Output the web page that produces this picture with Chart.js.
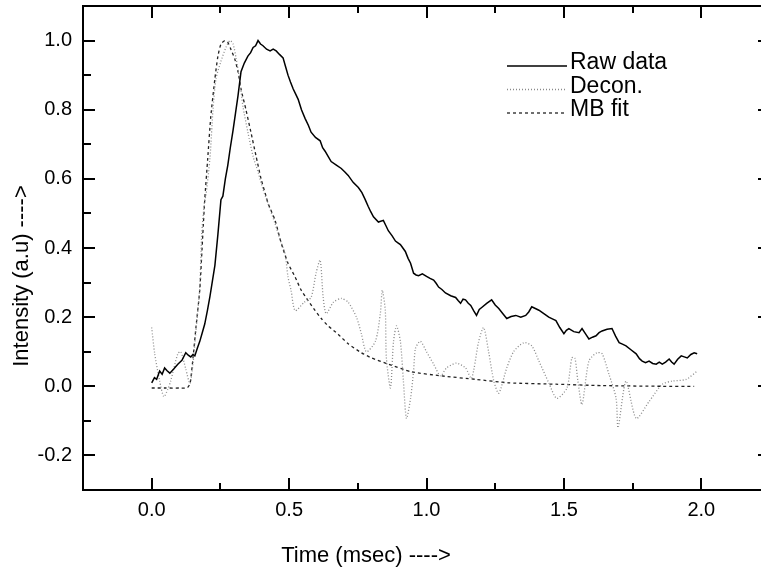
<!DOCTYPE html>
<html>
<head>
<meta charset="utf-8">
<script src="https://cdn.jsdelivr.net/npm/chart.js@4.4.1/dist/chart.umd.min.js"></script>
<style>
html,body{margin:0;padding:0;background:#fff;overflow:hidden;}
#wrap{width:775px;height:570px;position:relative;}
</style>
</head>
<body>
<div id="wrap"><canvas id="c"></canvas></div>
<script>
// ---- data ----
const xTicks = [0.0, 0.5, 1.0, 1.5, 2.0];
const xMinorTicks = [0.25, 0.75, 1.25, 1.75];
const yTicks = [-0.2, 0.0, 0.2, 0.4, 0.6, 0.8, 1.0];
const yMinorTicks = [-0.1, 0.1, 0.3, 0.5, 0.7, 0.9];
const seriesNames = ["Raw data", "Decon.", "MB fit"];
const xTitle = "Time (msec) ---->";
const yTitle = "Intensity (a.u) ---->";

const rawT = [0.000,0.010,0.018,0.029,0.038,0.047,0.056,0.066,0.080,0.095,0.110,0.124,0.133,0.142,0.150,0.157,0.166,0.175,0.184,0.193,0.203,0.212,0.221,0.230,0.241,0.252,0.259,0.268,0.277,0.286,0.296,0.305,0.314,0.325,0.337,0.350,0.360,0.369,0.378,0.387,0.396,0.405,0.418,0.431,0.442,0.453,0.465,0.478,0.487,0.496,0.505,0.515,0.524,0.533,0.545,0.558,0.570,0.580,0.596,0.613,0.622,0.631,0.642,0.653,0.672,0.690,0.703,0.715,0.733,0.752,0.765,0.777,0.788,0.797,0.807,0.825,0.843,0.852,0.861,0.875,0.887,0.896,0.905,0.914,0.923,0.933,0.942,0.953,0.962,0.971,0.985,1.000,1.013,1.026,1.035,1.044,1.056,1.069,1.088,1.106,1.115,1.124,1.133,1.142,1.152,1.161,1.172,1.182,1.192,1.201,1.219,1.237,1.250,1.263,1.278,1.292,1.308,1.325,1.343,1.361,1.372,1.383,1.396,1.409,1.427,1.445,1.458,1.471,1.485,1.500,1.509,1.518,1.536,1.555,1.566,1.580,1.591,1.604,1.617,1.628,1.639,1.657,1.675,1.688,1.701,1.713,1.726,1.745,1.763,1.775,1.785,1.797,1.810,1.823,1.836,1.847,1.858,1.870,1.883,1.892,1.901,1.914,1.927,1.938,1.949,1.962,1.974,1.985];
const rawV = [0.010,0.025,0.020,0.044,0.035,0.053,0.045,0.038,0.050,0.064,0.075,0.097,0.090,0.085,0.092,0.088,0.110,0.130,0.155,0.180,0.220,0.260,0.305,0.350,0.440,0.540,0.550,0.600,0.640,0.690,0.740,0.790,0.840,0.910,0.935,0.955,0.965,0.980,0.985,1.000,0.990,0.985,0.975,0.970,0.975,0.970,0.960,0.950,0.925,0.900,0.880,0.860,0.845,0.830,0.800,0.775,0.755,0.735,0.720,0.710,0.690,0.680,0.665,0.650,0.640,0.630,0.620,0.610,0.590,0.575,0.560,0.540,0.520,0.505,0.490,0.475,0.480,0.465,0.450,0.435,0.420,0.415,0.410,0.400,0.390,0.370,0.356,0.327,0.322,0.320,0.325,0.318,0.312,0.307,0.298,0.287,0.280,0.270,0.262,0.257,0.248,0.240,0.252,0.250,0.240,0.234,0.218,0.205,0.222,0.228,0.240,0.250,0.235,0.225,0.210,0.196,0.202,0.205,0.200,0.205,0.215,0.230,0.225,0.220,0.210,0.200,0.195,0.190,0.170,0.152,0.162,0.167,0.158,0.155,0.167,0.150,0.137,0.142,0.146,0.155,0.160,0.165,0.167,0.145,0.126,0.122,0.117,0.105,0.094,0.080,0.073,0.068,0.073,0.066,0.064,0.070,0.064,0.070,0.079,0.070,0.064,0.078,0.088,0.085,0.082,0.092,0.097,0.094];

const deconT = [0.000,0.011,0.029,0.044,0.058,0.069,0.095,0.106,0.124,0.139,0.150,0.161,0.175,0.182,0.193,0.197,0.212,0.223,0.234,0.252,0.270,0.285,0.296,0.307,0.321,0.332,0.350,0.369,0.387,0.405,0.423,0.449,0.471,0.485,0.496,0.507,0.522,0.555,0.580,0.598,0.613,0.624,0.635,0.661,0.690,0.715,0.745,0.763,0.781,0.814,0.832,0.839,0.850,0.854,0.869,0.880,0.891,0.905,0.916,0.927,0.942,0.953,0.960,0.978,1.000,1.026,1.051,1.073,1.109,1.142,1.164,1.190,1.208,1.226,1.245,1.263,1.292,1.317,1.354,1.383,1.409,1.445,1.474,1.511,1.529,1.540,1.551,1.566,1.591,1.620,1.639,1.664,1.690,1.697,1.726,1.763,1.810,1.858,1.894,1.945,1.985];
const deconV = [0.170,0.094,0.015,-0.030,-0.010,0.015,0.094,0.100,0.050,0.008,0.064,0.160,0.287,0.440,0.540,0.550,0.660,0.800,0.890,0.940,0.980,1.000,0.990,0.950,0.880,0.810,0.735,0.665,0.620,0.570,0.530,0.470,0.415,0.386,0.316,0.278,0.219,0.243,0.257,0.327,0.365,0.257,0.210,0.243,0.254,0.243,0.200,0.152,0.100,0.130,0.210,0.278,0.220,0.082,-0.005,0.130,0.175,0.130,0.015,-0.093,-0.035,0.044,0.110,0.130,0.100,0.064,0.030,0.053,0.067,0.053,0.023,0.130,0.170,0.100,0.015,-0.020,0.053,0.100,0.126,0.117,0.073,0.010,-0.035,-0.005,0.082,0.082,0.015,-0.053,0.073,0.097,0.094,0.035,-0.035,-0.120,0.015,-0.093,-0.044,0.006,0.015,0.020,0.044];

const fitT = [0.000,0.050,0.100,0.130,0.140,0.150,0.161,0.175,0.186,0.193,0.204,0.215,0.230,0.241,0.252,0.266,0.277,0.288,0.303,0.314,0.325,0.343,0.361,0.380,0.398,0.416,0.423,0.449,0.471,0.496,0.522,0.544,0.569,0.595,0.617,0.642,0.679,0.715,0.763,0.800,0.861,0.945,1.055,1.179,1.299,1.471,1.639,1.858,1.974];
const fitV = [-0.005,-0.005,-0.005,-0.004,0.010,0.080,0.170,0.280,0.440,0.540,0.660,0.780,0.890,0.955,0.990,1.000,0.995,0.975,0.945,0.910,0.860,0.800,0.735,0.665,0.600,0.550,0.530,0.480,0.415,0.356,0.316,0.278,0.248,0.219,0.196,0.175,0.150,0.123,0.097,0.082,0.064,0.042,0.030,0.020,0.010,0.006,0.002,0.000,0.000];

const toPts = (t, v) => t.map((x, i) => ({x: x, y: v[i]}));

const FONT = "'Liberation Sans', Arial, Helvetica, sans-serif";

const framePlugin = {
  id: 'frame',
  afterDraw(chart) {
    const ctx = chart.ctx, a = chart.chartArea;
    const xs = chart.scales.x, ys = chart.scales.y;
    ctx.save();
    ctx.strokeStyle = '#000';
    ctx.lineWidth = 2;
    ctx.strokeRect(a.left, a.top, a.right - a.left, a.bottom - a.top);
    const tick = (x1, y1, x2, y2) => { ctx.beginPath(); ctx.moveTo(x1, y1); ctx.lineTo(x2, y2); ctx.stroke(); };
    xTicks.forEach(v => { const p = Math.round(xs.getPixelForValue(v)); tick(p, a.bottom, p, a.bottom - 12); tick(p, a.top, p, a.top + 12); });
    xMinorTicks.forEach(v => { const p = Math.round(xs.getPixelForValue(v)); tick(p, a.bottom, p, a.bottom - 7); tick(p, a.top, p, a.top + 7); });
    yTicks.forEach(v => { const p = Math.round(ys.getPixelForValue(v)); tick(a.left, p, a.left + 12, p); tick(a.right, p, a.right - 12, p); });
    yMinorTicks.forEach(v => { const p = Math.round(ys.getPixelForValue(v)); tick(a.left, p, a.left + 8, p); tick(a.right, p, a.right - 8, p); });

    // legend inside the plot
    ctx.font = '23px ' + FONT;
    ctx.textBaseline = 'middle';
    ctx.textAlign = 'left';
    chart.data.datasets.forEach((ds, i) => {
      const yy = a.top + 57 + i * 23.5;
      ctx.save();
      ctx.strokeStyle = ds.borderColor;
      ctx.lineWidth = ds.borderWidth;
      ctx.setLineDash(ds.borderDash || []);
      ctx.beginPath();
      ctx.moveTo(a.left + 424, yy + 3);
      ctx.lineTo(a.left + 484, yy + 3);
      ctx.stroke();
      ctx.restore();
      ctx.fillStyle = '#000';
      ctx.fillText(ds.label, a.left + 487, yy);
    });

    // axis titles
    ctx.font = '22px ' + FONT;
    ctx.fillStyle = '#000';
    ctx.textAlign = 'center';
    ctx.textBaseline = 'middle';
    ctx.fillText(xTitle, a.left + 283, a.bottom + 66);
    ctx.save();
    ctx.translate(22, a.top + 270);
    ctx.rotate(-Math.PI / 2);
    ctx.fillText(yTitle, 0, 0);
    ctx.restore();
    ctx.restore();
  }
};

new Chart(document.getElementById('c'), {
  type: 'line',
  data: {
    datasets: [
      { label: seriesNames[0], data: toPts(rawT, rawV), borderColor: '#000', borderWidth: 1.5, borderDash: [], pointRadius: 0, tension: 0, fill: false },
      { label: seriesNames[1], data: toPts(deconT, deconV), borderColor: '#8a8a8a', borderWidth: 1.3, borderDash: [1, 2], pointRadius: 0, tension: 0.25, fill: false },
      { label: seriesNames[2], data: toPts(fitT, fitV), borderColor: '#222', borderWidth: 1.3, borderDash: [3, 3], pointRadius: 0, tension: 0.2, fill: false }
    ]
  },
  options: {
    responsive: true,
    maintainAspectRatio: false,
    animation: false,
    events: [],
    layout: { padding: { left: 0, top: 6, right: 5, bottom: 0 } },
    plugins: { legend: { display: false }, tooltip: { enabled: false }, title: { display: false } },
    scales: {
      x: {
        type: 'linear', min: -0.25, max: 2.25,
        grid: { display: false, drawTicks: false },
        border: { display: false },
        afterBuildTicks: s => { s.ticks = xTicks.map(v => ({ value: v })); },
        afterFit: s => { s.height = 80; s.paddingLeft = 0; s.paddingRight = 0; s.paddingTop = 0; s.paddingBottom = 0; },
        ticks: { color: '#000', font: { family: FONT, size: 20 }, padding: 8, maxRotation: 0, autoSkip: false, callback: v => Number(v).toFixed(1) }
      },
      y: {
        type: 'linear', min: -0.3, max: 1.1,
        grid: { display: false, drawTicks: false },
        border: { display: false },
        afterBuildTicks: s => { s.ticks = yTicks.map(v => ({ value: v })); },
        afterFit: s => { s.width = 83; s.paddingLeft = 0; s.paddingRight = 0; s.paddingTop = 0; s.paddingBottom = 0; },
        ticks: { color: '#000', font: { family: FONT, size: 20 }, padding: 11, autoSkip: false, callback: v => Number(v).toFixed(1) }
      }
    }
  },
  plugins: [framePlugin]
});
</script>
</body>
</html>
